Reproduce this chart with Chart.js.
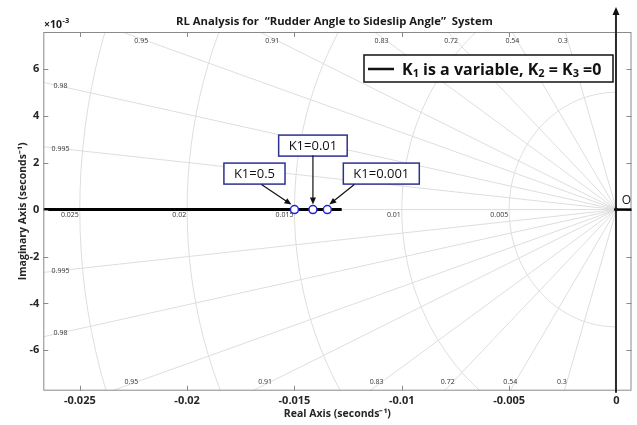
<!DOCTYPE html>
<html>
<head>
<meta charset="utf-8">
<script src="https://cdn.jsdelivr.net/npm/chart.js@4.4.1/dist/chart.umd.min.js"></script>
<style>
    html, body { margin: 0; padding: 0; background: #fff; }
</style>
</head>
<body>
<canvas id="grafico" width="637" height="425"></canvas>
<script>
// eixos (parte imaginária em unidades de 1e-3)
const xTicks = [-0.025, -0.02, -0.015, -0.01, -0.005, 0];
const yTicks = [-6, -4, -2, 0, 2, 4, 6];

// ramo do lugar das raízes sobre o eixo real
const locusRe = [-0.0267, -0.0128];
const locusIm = [0, 0];

// polos em malha fechada para alguns ganhos
const gainLabels = ["K1=0.5", "K1=0.01", "K1=0.001"];
const gainRe = [-0.0150, -0.01414, -0.01347];
const gainIm = [0, 0, 0];

// grade s: amortecimento e frequência natural
const dampingRatios = [0.995, 0.98, 0.95, 0.91, 0.83, 0.72, 0.54, 0.3];
const naturalFreqs = [0.005, 0.01, 0.015, 0.02, 0.025];

// posição das caixas de texto em relação ao polo (px)
const calloutOffsets = [[-40, -36], [0, -64], [54, -36]];
const arrowStarts = [[-33, -25], [0, -54], [27, -25]];

const FONTE = "'Open Sans', sans-serif";
Chart.defaults.font.family = FONTE;

function ponto(chart, re, im) {
    return [chart.scales.x.getPixelForValue(re), chart.scales.y.getPixelForValue(im * 1000)];
}

const gradeS = {
    id: "gradeS",
    beforeDatasetsDraw(chart) {
        const { ctx, chartArea: a } = chart;
        const [ox, oy] = ponto(chart, 0, 0);

        ctx.save();
        ctx.beginPath();
        ctx.rect(a.left, a.top, a.right - a.left, a.bottom - a.top);
        ctx.clip();
        ctx.strokeStyle = "#dedede";
        ctx.lineWidth = 1;

        dampingRatios.forEach(z => {
            [1, -1].forEach(s => {
                const [x, y] = ponto(chart, -z * 0.06, s * 0.06 * Math.sqrt(1 - z * z));
                ctx.beginPath();
                ctx.moveTo(ox, oy);
                ctx.lineTo(x, y);
                ctx.stroke();
            });
        });

        const [rx] = ponto(chart, -0.06, 0);
        ctx.beginPath();
        ctx.moveTo(ox, oy);
        ctx.lineTo(rx, oy);
        ctx.stroke();

        naturalFreqs.forEach(w => {
            ctx.beginPath();
            for (let g = 90; g <= 270; g += 2) {
                const r = g * Math.PI / 180;
                const [x, y] = ponto(chart, w * Math.cos(r), w * Math.sin(r));
                if (g === 90) ctx.moveTo(x, y); else ctx.lineTo(x, y);
            }
            ctx.stroke();
        });
        ctx.restore();

        // rótulos da grade
        ctx.save();
        ctx.font = "7px " + FONTE;
        ctx.fillStyle = "#333";
        ctx.textAlign = "center";
        ctx.textBaseline = "middle";
        dampingRatios.forEach(z => {
            const k = Math.sqrt(1 - z * z) / z;
            [7.2e-3, -7.35e-3].forEach(im => {
                let re = -Math.abs(im) / k;
                let dx = -5;
                if (re < -0.0259) {
                    re = -0.0259;
                    im = Math.sign(im) * 0.0259 * k;
                    dx = 0;
                }
                const [x, y] = ponto(chart, re, im);
                ctx.fillText(String(z), x + dx, y);
            });
        });
        ctx.textAlign = "right";
        ctx.textBaseline = "top";
        naturalFreqs.forEach(w => {
            const [x, y] = ponto(chart, -w, 0);
            ctx.fillText(String(w), x - 1, y + 2);
        });
        ctx.restore();
    }
};

function seta(ctx, x1, y1, x2, y2) {
    const ang = Math.atan2(y2 - y1, x2 - x1);
    const c = Math.cos(ang), s = Math.sin(ang);
    ctx.beginPath();
    ctx.moveTo(x1, y1);
    ctx.lineTo(x2 - 6 * c, y2 - 6 * s);
    ctx.stroke();
    ctx.beginPath();
    ctx.moveTo(x2, y2);
    ctx.lineTo(x2 - 7 * c + 3 * s, y2 - 7 * s - 3 * c);
    ctx.lineTo(x2 - 7 * c - 3 * s, y2 - 7 * s + 3 * c);
    ctx.closePath();
    ctx.fill();
}

const moldura = {
    id: "moldura",
    afterDraw(chart) {
        const { ctx, chartArea: a } = chart;
        const [ox, oy] = ponto(chart, 0, 0);

        ctx.save();
        // caixa e marcas internas
        ctx.strokeStyle = "#8a8a8a";
        ctx.lineWidth = 1;
        ctx.strokeRect(a.left + 0.5, a.top + 0.5, a.right - a.left - 1, a.bottom - a.top - 1);
        ctx.beginPath();
        xTicks.forEach(v => {
            const x = Math.round(chart.scales.x.getPixelForValue(v)) + 0.5;
            ctx.moveTo(x, a.top); ctx.lineTo(x, a.top + 5);
            ctx.moveTo(x, a.bottom); ctx.lineTo(x, a.bottom - 5);
        });
        yTicks.forEach(v => {
            const y = Math.round(chart.scales.y.getPixelForValue(v)) + 0.5;
            ctx.moveTo(a.left, y); ctx.lineTo(a.left + 5, y);
            ctx.moveTo(a.right, y); ctx.lineTo(a.right - 5, y);
        });
        ctx.stroke();

        // eixo imaginário com seta e semieixo real positivo
        ctx.strokeStyle = "#2a2a2a";
        ctx.fillStyle = "#111";
        ctx.lineWidth = 2;
        ctx.beginPath();
        ctx.moveTo(ox - 0.5, 14);
        ctx.lineTo(ox - 0.5, a.bottom + 2);
        ctx.stroke();
        ctx.beginPath();
        ctx.moveTo(ox - 0.5, 7);
        ctx.lineTo(ox - 4, 15);
        ctx.lineTo(ox + 3, 15);
        ctx.closePath();
        ctx.fill();
        ctx.strokeStyle = "#000";
        ctx.lineWidth = 2.5;
        ctx.beginPath();
        ctx.moveTo(ox - 1, oy);
        ctx.lineTo(a.right, oy);
        ctx.stroke();
        ctx.beginPath();
        ctx.arc(ox - 0.5, oy, 2, 0, Math.PI * 2);
        ctx.fill();
        ctx.font = "12px " + FONTE;
        ctx.textAlign = "center";
        ctx.textBaseline = "middle";
        ctx.fillText("O", ox + 10, oy - 9);

        // legenda
        ctx.fillStyle = "#fff";
        ctx.fillRect(364, 55, 249, 27);
        ctx.strokeStyle = "#111";
        ctx.lineWidth = 1.5;
        ctx.strokeRect(364, 55, 249, 27);
        ctx.lineWidth = 2.5;
        ctx.beginPath();
        ctx.moveTo(368, 69);
        ctx.lineTo(394, 69);
        ctx.stroke();
        const partes = [["K", 0], ["1", 1], [" is a variable, K", 0], ["2", 1], [" = K", 0], ["3", 1], [" =0", 0]];
        let tx = 402;
        ctx.fillStyle = "#111";
        ctx.textAlign = "left";
        ctx.textBaseline = "alphabetic";
        partes.forEach(([t, sub]) => {
            ctx.font = "bold " + (sub ? 11 : 16) + "px " + FONTE;
            ctx.fillText(t, tx, sub ? 77 : 74.5);
            tx += ctx.measureText(t).width;
        });

        // caixas dos ganhos
        const pontos = chart.getDatasetMeta(0).data;
        ctx.font = "13px " + FONTE;
        ctx.textAlign = "center";
        ctx.textBaseline = "middle";
        gainLabels.forEach((txt, i) => {
            const px = pontos[i].x, py = pontos[i].y;
            const cx = px + calloutOffsets[i][0], cy = py + calloutOffsets[i][1];
            const w = ctx.measureText(txt).width + 20, h = 21;
            ctx.fillStyle = "#fff";
            ctx.fillRect(cx - w / 2, cy - h / 2, w, h);
            ctx.strokeStyle = "#2e3192";
            ctx.lineWidth = 1.5;
            ctx.strokeRect(cx - w / 2, cy - h / 2, w, h);
            ctx.fillStyle = "#111";
            ctx.fillText(txt, cx, cy + 0.5);
            ctx.strokeStyle = "#111";
            ctx.lineWidth = 1.2;
            seta(ctx, px + arrowStarts[i][0], py + arrowStarts[i][1], px + (i === 0 ? -3 : i === 2 ? 2 : 0), py - 5);
        });

        // título e multiplicador do eixo y
        ctx.fillStyle = "#1a1a1a";
        ctx.font = "bold 11.3px " + FONTE;
        ctx.fillText("RL Analysis for  \u201CRudder Angle to Sideslip Angle\u201D  System", (a.left + a.right) / 2 - 3, 21.5);
        ctx.textAlign = "left";
        ctx.textBaseline = "alphabetic";
        ctx.font = "bold 10.5px " + FONTE;
        ctx.fillText("\u00D710", 44, 28);
        const w10 = ctx.measureText("\u00D710").width;
        ctx.font = "bold 7.5px " + FONTE;
        ctx.fillText("-3", 44 + w10 + 0.5, 23);
        ctx.restore();
    }
};

const fonteTicks = { size: 11, weight: "bold" };

new Chart(document.querySelector("#grafico"), {
    type: "scatter",
    data: {
        datasets: [
            {
                label: "Ganhos",
                data: gainRe.map((re, i) => ({ x: re, y: gainIm[i] })),
                showLine: false,
                pointRadius: 4,
                pointBorderWidth: 1.5,
                pointBorderColor: "#2424d4",
                pointBackgroundColor: "#fff",
                order: 0
            },
            {
                label: "Lugar das raízes",
                data: locusRe.map((re, i) => ({ x: re, y: locusIm[i] })),
                showLine: true,
                borderColor: "#000",
                borderWidth: 3,
                pointRadius: 0,
                order: 1
            }
        ]
    },
    options: {
        responsive: false,
        animation: false,
        devicePixelRatio: 1,
        layout: { padding: { top: 32, right: 5, left: 0, bottom: 0 } },
        plugins: { legend: { display: false }, tooltip: { enabled: false } },
        scales: {
            x: {
                type: "linear",
                min: -0.0267,
                max: 0.0007,
                afterBuildTicks: s => { s.ticks = xTicks.map(v => ({ value: v })); },
                afterFit: s => { s.height = 34.3; },
                grid: { display: false, drawTicks: false },
                border: { display: false },
                ticks: { padding: 4, color: "#262626", font: fonteTicks, maxRotation: 0, autoSkip: false, callback: v => String(v) },
                title: { display: true, text: "Real Axis (seconds\u207B\u00B9)", color: "#262626", font: { size: 10.5, weight: "bold" }, padding: { top: 0, bottom: 4.4 } }
            },
            y: {
                type: "linear",
                min: -7.72,
                max: 7.57,
                afterBuildTicks: s => { s.ticks = yTicks.map(v => ({ value: v })); },
                afterFit: s => { s.width = 43.3; },
                grid: { display: false, drawTicks: false },
                border: { display: false },
                ticks: { padding: 4, color: "#262626", font: fonteTicks, callback: v => String(v) },
                title: { display: true, text: "Imaginary Axis (seconds\u207B\u00B9)", color: "#262626", font: { size: 10.5, weight: "bold" }, padding: { top: 16.4, bottom: 0 } }
            }
        }
    },
    plugins: [gradeS, moldura]
});
</script>
</body>
</html>
